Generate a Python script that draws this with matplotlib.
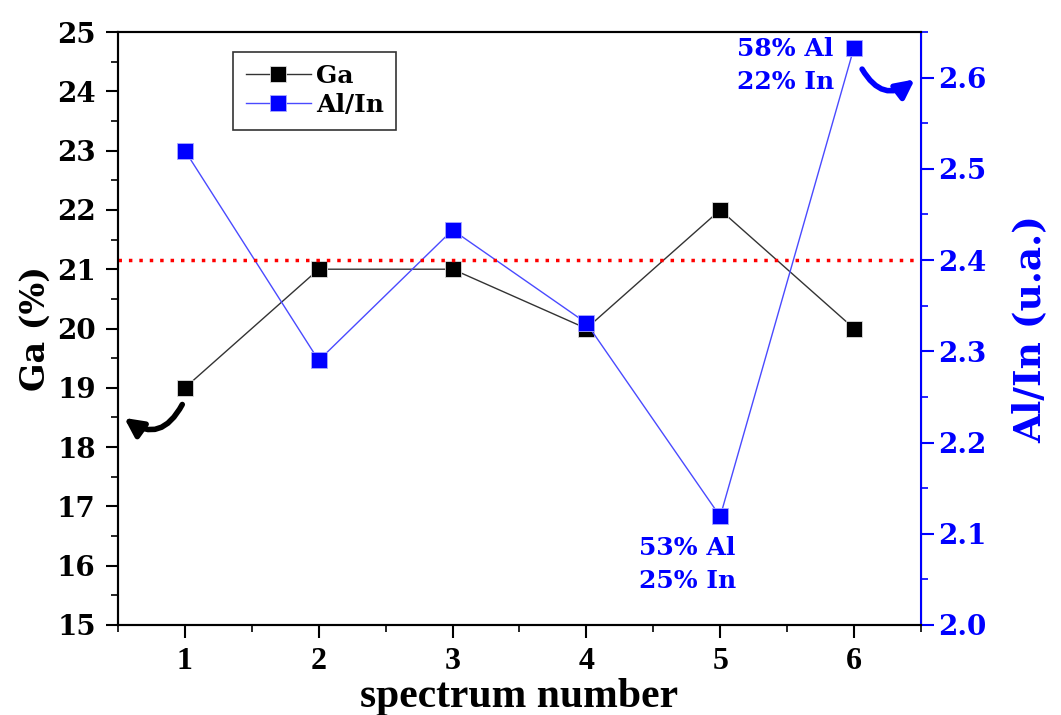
import numpy as np
from matplotlib import pyplot as plt
from matplotlib.ticker import MultipleLocator, FormatStrFormatter

plt.rcParams['font.family'] = 'serif'
plt.rcParams['font.serif'] = ['DejaVu Serif', 'Liberation Serif']
plt.rcParams['font.weight'] = 'bold'

spectrum = [1, 2, 3, 4, 5, 6]
ga = [19, 21, 21, 20, 22, 20]
al_in = [2.52, 2.29, 2.433, 2.331, 2.119, 2.633]
al_in_mean = 2.4

fig = plt.figure(figsize=(10.61, 7.15), dpi=100)
ax = fig.add_axes([0.1112, 0.1259, 0.7568, 0.8293])
ax2 = ax.twinx()

l1, = ax.plot(spectrum, ga, color='#333333', lw=1, marker='s', ms=12,
              mfc='black', mec='#dddddd', mew=0.6, label='Ga')
l2, = ax2.plot(spectrum, al_in, color='#4a4aff', lw=1, marker='s', ms=12,
               mfc='#0000ff', mec='#aaaaff', mew=0.6, label='Al/In')
ax2.axhline(al_in_mean, color='red', ls=(0, (1, 2)), lw=2.5)

ax.set_xlim(0.5, 6.5)
ax.set_ylim(15, 25)
ax2.set_ylim(2.0, 2.65)

ax.xaxis.set_major_locator(MultipleLocator(1))
ax.xaxis.set_minor_locator(MultipleLocator(0.5))
ax.yaxis.set_major_locator(MultipleLocator(1))
ax.yaxis.set_minor_locator(MultipleLocator(0.5))
ax2.yaxis.set_major_locator(MultipleLocator(0.1))
ax2.yaxis.set_minor_locator(MultipleLocator(0.05))
ax2.yaxis.set_major_formatter(FormatStrFormatter('%.1f'))

ax.tick_params(which='major', direction='out', length=9, width=1.5)
ax.tick_params(which='minor', direction='out', length=5, width=1.2)
ax.tick_params(axis='y', right=False, labelsize=20, pad=7)
ax.tick_params(axis='x', pad=7)
for t in ax.get_xticklabels():
    t.set_fontfamily('Liberation Serif')
    t.set_fontsize(23)
ax2.tick_params(which='major', direction='out', length=9, width=1.5, labelsize=20,
                colors='#0000ff')
ax2.tick_params(which='minor', direction='out', length=5, width=1.2, colors='#0000ff')

for s in ['left', 'bottom', 'top']:
    ax.spines[s].set_linewidth(1.5)
    ax2.spines[s].set_linewidth(1.5)
ax2.spines['right'].set_color('#0000ff')
ax2.spines['right'].set_linewidth(1.5)

ax.set_xlabel('spectrum number', fontsize=30, fontweight='bold', labelpad=1,
              fontfamily='Liberation Serif')
ax.set_ylabel('Ga (%)', fontsize=24, fontweight='bold', labelpad=4)
ax2.set_ylabel('Al/In (u.a.)', fontsize=27, fontweight='bold', color='#0000ff', labelpad=18)

leg = ax2.legend(handles=[l1, l2], loc='upper left', bbox_to_anchor=(0.128, 0.988),
                 fontsize=18, frameon=True, fancybox=False, edgecolor='#333333',
                 framealpha=1, handlelength=2.6, handletextpad=0.2, borderpad=0.5,
                 labelspacing=0.2)
leg.get_frame().set_linewidth(1.2)

ax2.text(5.12, 2.098, '53% Al\n25% In', color='#0000ff', fontsize=18, fontweight='bold',
         ha='right', va='top', linespacing=1.5, ma='left')
ax2.text(5.85, 2.645, '58% Al\n22% In', color='#0000ff', fontsize=18, fontweight='bold',
         ha='right', va='top', linespacing=1.5, ma='left')

# hand-drawn arrows
ax.annotate('', xy=(0.53, 18.52), xytext=(0.99, 18.76),
            arrowprops=dict(arrowstyle='-|>,head_length=1.1,head_width=0.55', color='black',
                            lw=4, connectionstyle='arc3,rad=-0.6'))
ax2.annotate('', xy=(6.47, 2.60), xytext=(6.05, 2.612),
             arrowprops=dict(arrowstyle='-|>,head_length=1.1,head_width=0.55', color='#0000ff',
                             lw=4, connectionstyle='arc3,rad=0.6'))

plt.savefig('out.png', dpi=100)
